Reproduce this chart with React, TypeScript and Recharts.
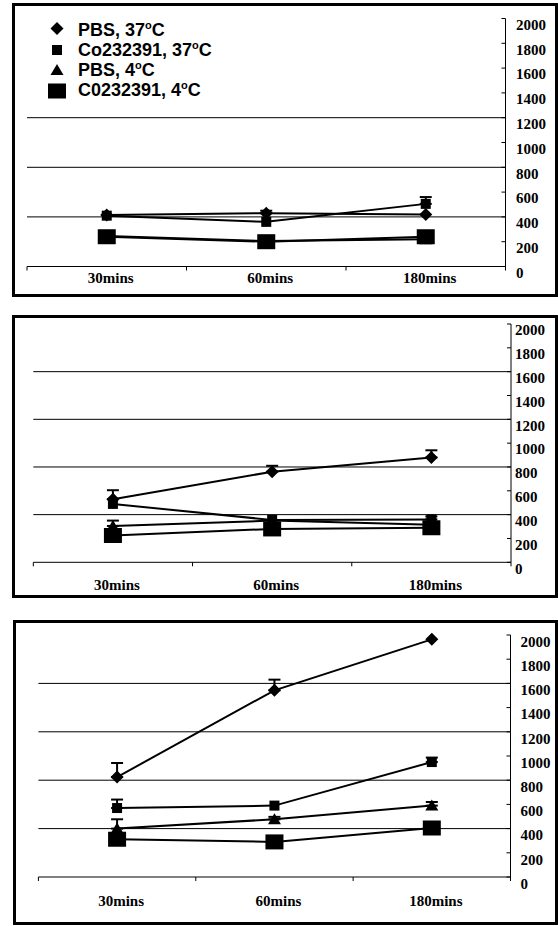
import React from 'react';
import { ComposedChart, Line, XAxis, YAxis, ErrorBar, ReferenceLine, Legend } from 'recharts';

// ---------- data ----------
const categories = ['30mins', '60mins', '180mins'];
const seriesKeys = ['pbs37', 'co37', 'pbs4', 'c04'];
const seriesNames = ['PBS, 37', 'Co232391, 37', 'PBS, 4', 'C0232391, 4'];
const yTicks = [0, 200, 400, 600, 800, 1000, 1200, 1400, 1600, 1800, 2000];

// Panel A (top)
const pbs37A = [415, 430, 420];
const pbs37ErrA = [0, 20, 0];
const co37A = [410, 360, 505];
const co37ErrA = [0, 0, 55];
const pbs4A = [245, 205, 220];
const pbs4ErrA = [0, 0, 0];
const c04A = [240, 200, 240];
const c04ErrA = [0, 0, 0];
const gridA = [400, 800, 1200];

// Panel B (middle)
const pbs37B = [530, 760, 880];
const pbs37ErrB = [75, 50, 60];
const co37B = [490, 355, 360];
const co37ErrB = [0, 0, 25];
const pbs4B = [305, 350, 315];
const pbs4ErrB = [45, 0, 0];
const c04B = [225, 280, 290];
const c04ErrB = [0, 0, 0];
const gridB = [400, 800, 1200, 1600];

// Panel C (bottom)
const pbs37C = [826, 1543, 1964];
const pbs37ErrC = [116, 88, 0];
const co37C = [570, 590, 950];
const co37ErrC = [70, 0, 37];
const pbs4C = [400, 477, 590];
const pbs4ErrC = [77, 20, 30];
const c04C = [312, 290, 405];
const c04ErrC = [0, 0, 0];
const gridC = [400, 800, 1200, 1600];

function buildRows(vals: number[][], errs: number[][]) {
  return categories.map((t, i) => {
    const row: any = { t };
    seriesKeys.forEach((k, s) => {
      row[k] = vals[s][i];
      row[k + 'Err'] = errs[s][i] > 0 ? [0, errs[s][i]] : undefined;
    });
    return row;
  });
}

const rowsA = buildRows([pbs37A, co37A, pbs4A, c04A], [pbs37ErrA, co37ErrA, pbs4ErrA, c04ErrA]);
const rowsB = buildRows([pbs37B, co37B, pbs4B, c04B], [pbs37ErrB, co37ErrB, pbs4ErrB, c04ErrB]);
const rowsC = buildRows([pbs37C, co37C, pbs4C, c04C], [pbs37ErrC, co37ErrC, pbs4ErrC, c04ErrC]);

// ---------- styling ----------
const SERIF = '"Liberation Serif", "Times New Roman", serif';
const SANS = '"Liberation Sans", Arial, sans-serif';

function Marker({ kind, cx, cy }: { kind: string; cx: number; cy: number }) {
  if (cx == null || cy == null) return null;
  if (kind === 'pbs37') {
    return <polygon points={`${cx},${cy - 6.5} ${cx + 6.5},${cy} ${cx},${cy + 6.5} ${cx - 6.5},${cy}`} fill="#000" />;
  }
  if (kind === 'co37') {
    return <rect x={cx - 5} y={cy - 5} width={10} height={10} fill="#000" />;
  }
  if (kind === 'pbs4') {
    return <polygon points={`${cx},${cy - 6} ${cx + 6.5},${cy + 5} ${cx - 6.5},${cy + 5}`} fill="#000" />;
  }
  return <rect x={cx - 9} y={cy - 7.5} width={18} height={15} fill="#000" />;
}

function XTick(props: any) {
  const { x, y, payload, index, visibleTicksCount, width, labelOff } = props;
  const n = visibleTicksCount || 3;
  const bw = (typeof width === 'number' && width > 0 ? width : 475) / n;
  const left = x - bw / 2;
  const right = x + bw / 2;
  return (
    <g>
      <line x1={left} y1={y} x2={left} y2={y + 4} stroke="#000" strokeWidth={1} />
      {index === n - 1 ? <line x1={right} y1={y} x2={right} y2={y + 4} stroke="#000" strokeWidth={1} /> : null}
      <text x={x + 4} y={y + labelOff} dy="0.35em" textAnchor="middle" fontFamily={SERIF} fontWeight="bold" fontSize={15} fill="#000">
        {payload.value}
      </text>
    </g>
  );
}

function YTick(props: any) {
  const { x, y, payload, gap, off } = props;
  return (
    <g>
      <line x1={x - 4} y1={y} x2={x} y2={y} stroke="#000" strokeWidth={1} />
      <text x={x + gap} y={y + off} dy="0.35em" textAnchor="start" fontFamily={SERIF} fontWeight="bold" fontSize={15} fill="#000">
        {payload.value}
      </text>
    </g>
  );
}

function LegendBox() {
  const rowsY = [30, 50, 70, 90];
  return (
    <svg width={260} height={105} style={{ display: 'block' }}>
      {seriesNames.map((name, i) => (
        <g key={name}>
          <Marker kind={seriesKeys[i]} cx={57} cy={rowsY[i] - (i === 0 ? 1.5 : 0) + (i === 3 ? 1 : 0)} />
          <text x={78} y={rowsY[i]} dy="0.35em" fontFamily={SANS} fontWeight="bold" fontSize={18} fill="#000">
            {name}
            <tspan fontSize={11} dy={-7}>o</tspan>
            <tspan dy={7}>C</tspan>
          </text>
        </g>
      ))}
    </svg>
  );
}

type PanelCfg = {
  rows: any[];
  grid: number[];
  top: number;
  height: number;
  margin: { top: number; right: number; bottom: number; left: number };
  labelOff: number;
  yGap: number;
  yOff: number;
  legend?: boolean;
};

function Panel({ cfg }: { cfg: PanelCfg }) {
  return (
    <div style={{ position: 'absolute', left: 0, top: cfg.top, width: 558, height: cfg.height }}>
      <ComposedChart width={558} height={cfg.height} data={cfg.rows} margin={cfg.margin}>
        <XAxis
          dataKey="t"
          type="category"
          scale="band"
          height={25}
          tickLine={false}
          tickSize={0}
          tickMargin={0}
          axisLine={{ stroke: '#000', strokeWidth: 1 }}
          tick={(p: any) => <XTick {...p} labelOff={cfg.labelOff} />}
          interval={0}
        />
        <YAxis
          orientation="right"
          type="number"
          domain={[0, 2000]}
          ticks={yTicks}
          interval={0}
          width={45}
          tickLine={false}
          tickSize={0}
          tickMargin={0}
          axisLine={{ stroke: '#000', strokeWidth: 1 }}
          tick={(p: any) => <YTick {...p} gap={cfg.yGap} off={cfg.yOff} />}
        />
        {cfg.grid.map((g) => (
          <ReferenceLine key={g} y={g} stroke="#000" strokeWidth={1} />
        ))}
        {seriesKeys.map((k) => (
          <Line
            key={k}
            dataKey={k}
            type="linear"
            stroke="#000"
            strokeWidth={2}
            isAnimationActive={false}
            dot={(p: any) => <Marker key={`${k}-${p.index}`} kind={k} cx={p.cx} cy={p.cy} />}
            activeDot={false}
          >
            <ErrorBar dataKey={k + 'Err'} direction="y" width={6} stroke="#000" strokeWidth={2} isAnimationActive={false} />
          </Line>
        ))}
        {cfg.legend ? (
          <Legend
            layout="horizontal"
            verticalAlign="middle"
            align="center"
            wrapperStyle={{ left: 0, top: 0, width: 260, height: 105 }}
            content={() => <LegendBox />}
          />
        ) : null}
      </ComposedChart>
    </div>
  );
}

const panels: PanelCfg[] = [
  {
    rows: rowsA,
    grid: gridA,
    top: 0,
    height: 300,
    margin: { top: 18.5, right: 7.5, bottom: 8.5, left: 27 },
    labelOff: 11.5,
    yGap: 10.5,
    yOff: 6,
    legend: true,
  },
  {
    rows: rowsB,
    grid: gridB,
    top: 300,
    height: 300,
    margin: { top: 24, right: 2, bottom: 12.7, left: 33.3 },
    labelOff: 22,
    yGap: 4,
    yOff: 6,
  },
  {
    rows: rowsC,
    grid: gridC,
    top: 600,
    height: 326,
    margin: { top: 35, right: 2.5, bottom: 24, left: 38.4 },
    labelOff: 24,
    yGap: 10,
    yOff: 6.5,
  },
];

const frames = [
  { left: 12, top: 3, width: 546, height: 294 },
  { left: 12, top: 315, width: 546, height: 283 },
  { left: 13, top: 620, width: 545, height: 305 },
];

export default function App() {
  return (
    <div style={{ position: 'absolute', left: 0, top: 0, width: 558, height: 926, background: '#fff', overflow: 'hidden' }}>
      {panels.map((cfg, i) => (
        <Panel key={i} cfg={cfg} />
      ))}
      {frames.map((f, i) => (
        <div
          key={i}
          style={{
            position: 'absolute',
            left: f.left,
            top: f.top,
            width: f.width,
            height: f.height,
            border: '3px solid #000',
            boxSizing: 'border-box',
            pointerEvents: 'none',
          }}
        />
      ))}
    </div>
  );
}
